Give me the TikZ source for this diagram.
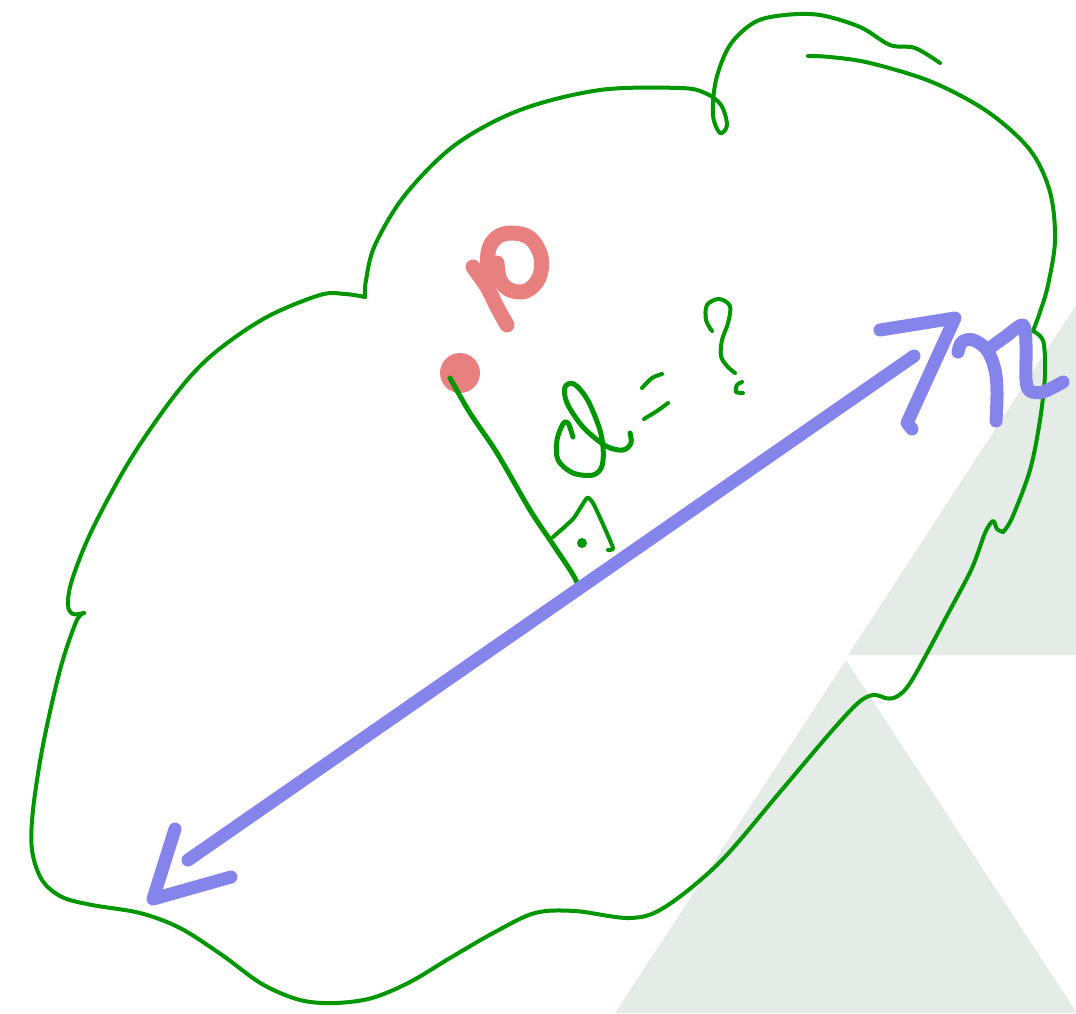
\documentclass[tikz,border=0pt]{standalone}
\begin{document}
\begin{tikzpicture}[x=1pt,y=-1pt,
  cloudline/.style={draw=penGreen,line width=4pt,line cap=round,line join=round},
  greenink/.style={draw=penGreen,line width=5pt,line cap=round,line join=round},
  blueink/.style={draw=penBlue,line width=13pt,line cap=round,line join=round},
  redink/.style={draw=penRed,line width=15pt,line cap=round,line join=round}]
\definecolor{penGreen}{RGB}{0,150,0}
\definecolor{penBlue}{RGB}{132,132,234}
\definecolor{penRed}{RGB}{232,128,128}
\definecolor{bgGray}{RGB}{229,235,231}
\useasboundingbox (0,0) rectangle (1076,1013);
% background triangles
\fill[bgGray] (1076,305) -- (848,655) -- (1076,655) -- cycle;
\fill[bgGray] (846,660) -- (615,1013) -- (1077,1013) -- cycle;
% cloud
\draw[cloudline] plot[smooth,tension=0.55] coordinates {
 (940,63) (915,48) (890,45) (860,27) (820,15) (785,15) (755,22) (730,45) (716,80) (713,115) (720,133) (727,125) (721,105) (705,93) (680,88)
 (600,90) (520,110) (455,145) (405,195) (375,245) (366,280) (365,297)};
\draw[cloudline] plot[smooth,tension=0.55] coordinates {
 (365,297) (345,294) (320,295) (265,318) (212,355) (175,395) (130,460) (92,530) (72,580) (68,605) (73,614) (84,613)};
\draw[cloudline] plot[smooth,tension=0.55] coordinates {
 (84,613) (76,622) (60,670) (43,745) (33,810) (32,850) (42,880) (62,897) (92,905) (140,913) (180,928) (222,955) (262,984) (300,1000) (335,1003) (372,998) (410,982) (450,958) (495,932) (535,913) (575,911) (630,918) (665,907) (720,862) (780,792) (830,733) (858,703) (873,695) (885,698)};
\draw[cloudline] plot[smooth,tension=0.55] coordinates {
 (885,698) (896,697) (912,680) (950,610) (972,568) (985,533) (993,521) (997,529) (1003,532)};
\draw[cloudline] plot[smooth,tension=0.55] coordinates {
 (1003,532) (1012,518) (1030,470) (1040,420) (1045,375) (1044,345) (1040,336) (1033,331)};
\draw[cloudline] plot[smooth,tension=0.55] coordinates {
 (1033,331) (1040,312) (1048,285) (1055,240) (1050,192) (1030,150) (988,112) (932,82) (870,63) (830,57) (808,56)};
% point P
\fill[penRed] (460,373) circle (20);
\draw[redink] plot[smooth,tension=0.5] coordinates {(473,267) (487,287) (497,307) (507,325)};
\draw[redink] plot[smooth,tension=0.6] coordinates {(488,285) (488,253) (496,238) (511,233) (530,238) (541,257) (539,278) (526,291) (510,290) (500,280) (497,263)};
% perpendicular
\coordinate (P) at (450,378);
\coordinate (F) at (578,585);
\draw[greenink] plot[smooth,tension=0.5] coordinates {(P) (470,413) (497,453) (530,510) (550,540) (572,573) (F)};
% right angle mark
\draw[greenink,line width=4pt] plot[smooth,tension=0.3] coordinates {(553,537) (573,519) (587,498) (593,503) (602,522) (613,548) (608,550)};
\fill[penGreen] (582,543) circle (5);
% d = ?
\draw[greenink] plot[smooth,tension=0.55] coordinates {(573,437) (568,423) (563,424) (557,440) (558,460) (573,473) (593,475) (602,466) (603,447) (599,427) (587,399) (574,384) (565,387) (567,403) (583,427) (606,446) (623,450) (631,443) (630,433)};
\draw[greenink,line width=4pt] plot[smooth,tension=0.5] coordinates {(642,388) (652,378) (662,374)};
\draw[greenink,line width=4pt] plot[smooth,tension=0.5] coordinates {(644,419) (657,411) (668,403)};
\draw[greenink,line width=4pt] plot[smooth,tension=0.55] coordinates {(712,331) (706,320) (707,305) (719,299) (730,306) (728,323) (722,340) (721,356) (727,366) (735,373)};
\draw[greenink,line width=4pt] plot[smooth,tension=0.5] coordinates {(742,382) (737,385) (736,392) (743,393)};
% line r (double arrow)
\coordinate (A) at (188,860);
\coordinate (B) at (914,356);
\draw[blueink] (A) -- (B);
\draw[blueink] (880,330) -- (955,318) -- (907,423) -- (912,429);
\draw[blueink] (175,829) -- (153,899) -- (231,877);
% letter r
\draw[blueink] plot[smooth,tension=0.6] coordinates {(958,352) (962,342) (973,340) (987,350) (995,370) (997,392) (996,421)};
\draw[blueink] plot[smooth,tension=0.5] coordinates {(987,350) (1005,337) (1023,325) (1026,345) (1026,380) (1030,391) (1043,392) (1063,382)};
\end{tikzpicture}
\end{document}
